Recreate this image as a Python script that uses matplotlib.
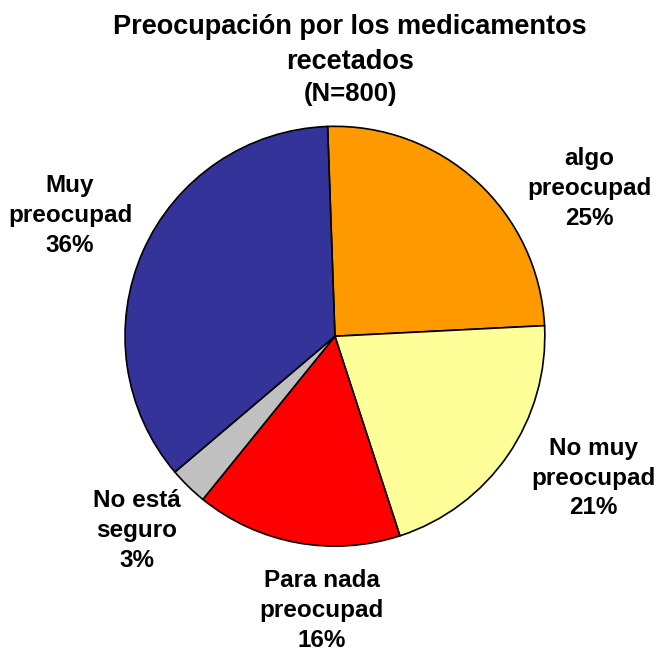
import matplotlib.pyplot as plt

plt.rcParams['font.family'] = ['Liberation Sans', 'DejaVu Sans']

# data
labels = ['algo\npreocupad', 'No muy\npreocupad', 'Para nada\npreocupad',
          'No está\nseguro', 'Muy\npreocupad']
values = [25, 21, 16, 3, 36]
colors = ['#FF9900', '#FFFF99', '#FF0000', '#C0C0C0', '#333399']

# label text spots (data units, pie radius = 1)
label_xy = [(1.214, 0.705), (1.233, -0.676), (-0.062, -1.305),
            (-0.943, -0.924), (-1.262, 0.576)]

fig = plt.figure(figsize=(6.58, 6.51), dpi=100)
ax = fig.add_axes([0.19, 0.161, 0.638, 0.645])

ax.pie(values, colors=colors, startangle=92, counterclock=False,
       wedgeprops={'edgecolor': 'black', 'linewidth': 1.2})

for lab, v, (x, y) in zip(labels, values, label_xy):
  ax.text(x, y, f'{lab}\n{v}%', ha='center', va='center',
          fontsize=17.5, fontweight='bold', linespacing=1.38, clip_on=False)

ax.set_xlim(-1, 1)
ax.set_ylim(-1, 1)
ax.set_aspect('equal')
ax.axis('off')

fig.text(0.532, 0.958, 'Preocupación por los medicamentos', ha='center', va='center',
         fontsize=19.5, fontweight='bold')
fig.text(0.532, 0.905, 'recetados', ha='center', va='center',
         fontsize=19.5, fontweight='bold')
fig.text(0.532, 0.855, '(N=800)', ha='center', va='center',
         fontsize=18.5, fontweight='bold')

fig.savefig('out.png', dpi=100)
